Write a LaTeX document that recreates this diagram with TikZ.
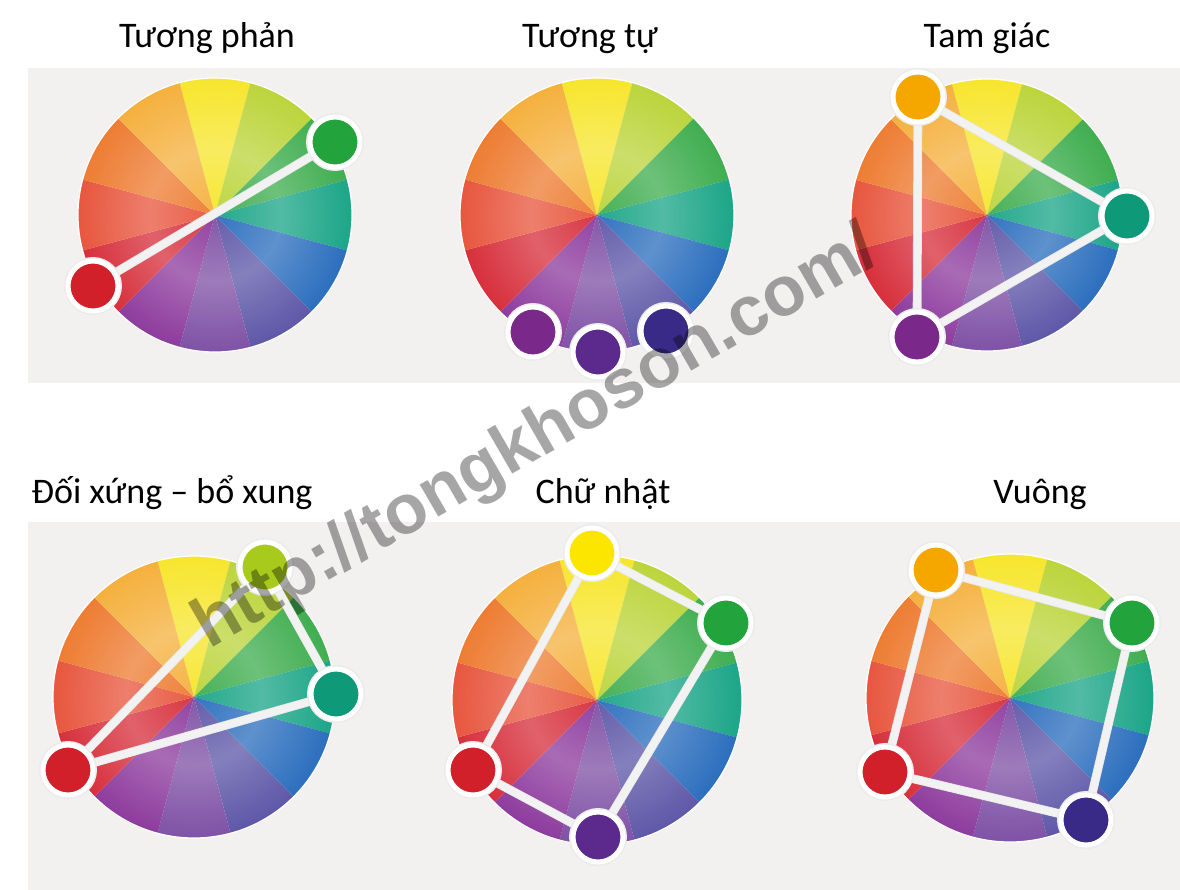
\documentclass[tikz,border=0pt]{standalone}
\usepackage{fontspec}
\setmainfont{Carlito}
\newfontfamily\markfont{Liberation Sans}
\usetikzlibrary{fadings}

% wheel colours, clockwise from the top
\definecolor{wy}{HTML}{F7E62E}
\definecolor{wyg}{HTML}{BCD53C}
\definecolor{wg}{HTML}{40AE50}
\definecolor{wt}{HTML}{1CA688}
\definecolor{wb}{HTML}{2C6FBE}
\definecolor{wi}{HTML}{5E58A8}
\definecolor{wv}{HTML}{7F52A6}
\definecolor{wp}{HTML}{8E3C9E}
\definecolor{wr}{HTML}{D7303C}
\definecolor{wro}{HTML}{E8573F}
\definecolor{wo}{HTML}{EE7D33}
\definecolor{wyo}{HTML}{F5B13E}
% dot colours
\definecolor{dred}{HTML}{D2202A}
\definecolor{dgreen}{HTML}{22A33C}
\definecolor{dteal}{HTML}{0E9A78}
\definecolor{dorange}{HTML}{F5A700}
\definecolor{dyellow}{HTML}{FCE600}
\definecolor{dyg}{HTML}{A8CA1C}
\definecolor{dpurple}{HTML}{7A2889}
\definecolor{dviolet}{HTML}{5C2A8C}
\definecolor{dindigo}{HTML}{3A2A88}
\definecolor{panelgray}{HTML}{F3F1F0}

\pgfdeclareradialshading{wheelglowshade}{\pgfpoint{0bp}{0bp}}{color(0bp)=(black!96); color(12bp)=(black!76); color(21bp)=(black!93); color(25bp)=(black); color(50bp)=(black)}
\pgfdeclarefading{wheelglow}{\pgfuseshading{wheelglowshade}}

\pgfdeclarelayer{back}
\pgfdeclarelayer{links}
\pgfsetlayers{back,links,main}

\newcommand\colorwheel[3]{%
  \begin{pgfonlayer}{back}
    \foreach \col [count=\k from 0] in {wy,wyg,wg,wt,wb,wi,wv,wp,wr,wro,wo,wyo}{
      \pgfmathsetmacro\ang{30*\k-90}
      \fill[\col] (#1,#2) -- ++(\ang-15:#3) arc[start angle=\ang-15, end angle=\ang+15, radius=#3] -- cycle;
    }
    \fill[white, path fading=wheelglow, fit fading=true] (#1,#2) circle[radius=#3];
    \draw[white, line width=0.6pt] (#1,#2) circle[radius=#3];
  \end{pgfonlayer}}

\begin{document}
\begin{tikzpicture}[x=0.5pt,y=-0.5pt]
  \tikzset{
    dot/.style={circle, inner sep=0pt, minimum size=25pt, fill=#1, draw=white, line width=2.5pt,
      preaction={draw=black!8, line width=4pt}},
    link/.style={draw=white!95!black, line width=3.6pt, preaction={draw=black!9, line width=4.4pt}},
    title/.style={anchor=base, font=\fontsize{18}{20}\selectfont},
    watermark/.style={font=\markfont\bfseries\fontsize{35}{40}\selectfont, text=black, text opacity=0.35, rotate=30}
  }
  \useasboundingbox (0,0) rectangle (1180,890);
  \begin{pgfonlayer}{back}
    \fill[white] (0,0) rectangle (1180,890);
    \fill[panelgray] (28,68) rectangle (1180,383);
    \fill[panelgray] (28,522) rectangle (1180,890);
  \end{pgfonlayer}

  % titles
  \node[title] (title_1) at (207,47) {Tương phản};
  \node[title] (title_2) at (590,47) {Tương tự};
  \node[title] (title_3) at (987,47) {Tam giác};
  \node[title] (title_4) at (172,503) {Đối xứng – bổ xung};
  \node[title] (title_5) at (603,503) {Chữ nhật};
  \node[title] (title_6) at (1040,503) {Vuông};

  % wheels
  \colorwheel{215}{215}{137}
  \colorwheel{597}{215}{137}
  \colorwheel{987}{215}{136}
  \colorwheel{194}{697}{141}
  \colorwheel{597}{700}{145}
  \colorwheel{1010}{698}{144}

  % Tuong phan
  \node[dot=dgreen] (dot_1_1) at (335,142) {};
  \node[dot=dred] (dot_1_2) at (93,286) {};
  % Tuong tu
  \node[dot=dpurple] (dot_2_1) at (533,332) {};
  \node[dot=dviolet] (dot_2_2) at (598,352) {};
  \node[dot=dindigo] (dot_2_3) at (666,331) {};
  % Tam giac
  \node[dot=dorange] (dot_3_1) at (918,97) {};
  \node[dot=dteal] (dot_3_2) at (1127,216) {};
  \node[dot=dpurple] (dot_3_3) at (917,337) {};
  % Doi xung - bo xung
  \node[dot=dyg] (dot_4_1) at (265,567) {};
  \node[dot=dteal] (dot_4_2) at (336,694) {};
  \node[dot=dred] (dot_4_3) at (68,770) {};
  % Chu nhat
  \node[dot=dyellow] (dot_5_1) at (592,553) {};
  \node[dot=dgreen] (dot_5_2) at (726,623) {};
  \node[dot=dviolet] (dot_5_3) at (598,837) {};
  \node[dot=dred] (dot_5_4) at (473,770) {};
  % Vuong
  \node[dot=dorange] (dot_6_1) at (936,570) {};
  \node[dot=dgreen] (dot_6_2) at (1132,623) {};
  \node[dot=dindigo] (dot_6_3) at (1086,820) {};
  \node[dot=dred] (dot_6_4) at (885,772) {};

  \begin{pgfonlayer}{links}
    \draw[link] (dot_1_2) -- (dot_1_1);
    \draw[link] (dot_3_1) -- (dot_3_2);
    \draw[link] (dot_3_2) -- (dot_3_3);
    \draw[link] (dot_3_3) -- (dot_3_1);
    \draw[link] (dot_4_3) -- (dot_4_1);
    \draw[link] (dot_4_3) -- (dot_4_2);
    \draw[link] (dot_4_2) -- (dot_4_1);
    \draw[link] (dot_5_1) -- (dot_5_2);
    \draw[link] (dot_5_2) -- (dot_5_3);
    \draw[link] (dot_5_3) -- (dot_5_4);
    \draw[link] (dot_5_4) -- (dot_5_1);
    \draw[link] (dot_6_1) -- (dot_6_2);
    \draw[link] (dot_6_2) -- (dot_6_3);
    \draw[link] (dot_6_3) -- (dot_6_4);
    \draw[link] (dot_6_4) -- (dot_6_1);
  \end{pgfonlayer}

  \node[watermark] (mark) at (537,440) {http://tongkhoson.com/};
\end{tikzpicture}
\end{document}
